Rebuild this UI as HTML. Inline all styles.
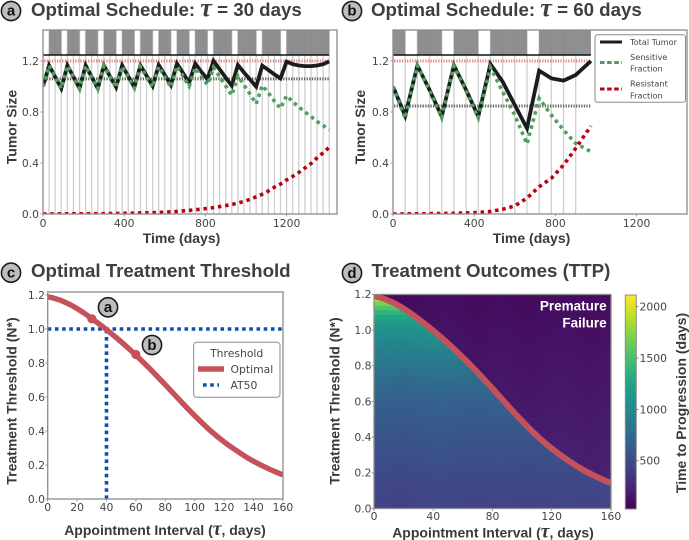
<!DOCTYPE html>
<html>
<head>
<meta charset="utf-8">
<title>Optimal Schedule Figure</title>
<style>
html,body{margin:0;padding:0;background:#fff;}
svg{display:block;}
.title{font-family:"Liberation Sans",sans-serif;font-weight:bold;font-size:18.7px;fill:#3f3f3f;}
.tau{font-family:"Liberation Serif",serif;font-style:italic;font-weight:bold;font-size:1.4em;}
.axl{font-family:"Liberation Sans",sans-serif;font-weight:bold;font-size:14px;fill:#3a3a3a;}
.tick{font-family:"DejaVu Sans",sans-serif;font-size:10.8px;fill:#454545;}
.leg{font-family:"DejaVu Sans",sans-serif;font-size:8.2px;fill:#454545;}
.leg2{font-family:"DejaVu Sans",sans-serif;font-size:10.8px;fill:#454545;}
.badge{font-family:"Liberation Sans",sans-serif;font-weight:bold;font-size:15px;fill:#111;text-anchor:middle;}
</style>
</head>
<body>
<svg id="fig" width="689" height="540" viewBox="0 0 689 540" xmlns="http://www.w3.org/2000/svg">
<defs>
<clipPath id="clipA"><rect x="43" y="30" width="294" height="184"/></clipPath>
<clipPath id="clipB"><rect x="393" y="30" width="294" height="184"/></clipPath>
<clipPath id="clipC"><rect x="47.7" y="292" width="235.3" height="207"/></clipPath>
<clipPath id="clipD"><rect x="374" y="294.5" width="237" height="214"/></clipPath>
<clipPath id="clipCurve"><polygon id="curveRegion" points="0,0"/></clipPath>
<linearGradient id="cbGrad" x1="0" y1="1" x2="0" y2="0"></linearGradient>
</defs>

<g id="panelA"></g>
<g id="panelB"></g>
<g id="panelC"></g>
<g id="panelD"></g>
<g id="panelCB"></g>

<g>
<circle cx="11" cy="11" r="9.6" fill="#bdbdbd" stroke="#1c1c1c" stroke-width="1.6"/>
<text class="badge" x="11" y="15.6">a</text>
<text class="title" x="31" y="16">Optimal Schedule: <tspan class="tau">τ</tspan> = 30 days</text>
<text class="axl" x="181.5" y="243" text-anchor="middle">Time (days)</text>
<text class="axl" transform="translate(16.5,127) rotate(-90)" text-anchor="middle">Tumor Size</text>
</g>

<g>
<circle cx="352" cy="11" r="9.6" fill="#bdbdbd" stroke="#1c1c1c" stroke-width="1.6"/>
<text class="badge" x="352" y="15.6">b</text>
<text class="title" x="371" y="16">Optimal Schedule: <tspan class="tau">τ</tspan> = 60 days</text>
<text class="axl" x="531.5" y="243" text-anchor="middle">Time (days)</text>
<text class="axl" transform="translate(365,127) rotate(-90)" text-anchor="middle">Tumor Size</text>
</g>

<g>
<rect x="595" y="34.7" width="90.5" height="67.5" rx="2.5" fill="#fff" stroke="#8a8a8a" stroke-width="1"/>
<line x1="600" x2="622" y1="42" y2="42" stroke="#1c1c1c" stroke-width="3"/>
<text class="leg" x="630" y="45">Total Tumor</text>
<line x1="600" x2="622" y1="62.5" y2="62.5" stroke="#4d9a5d" stroke-width="3" stroke-dasharray="4.5 2.6"/>
<text class="leg" x="630" y="60">Sensitive</text>
<text class="leg" x="630" y="71.5">Fraction</text>
<line x1="600" x2="622" y1="89" y2="89" stroke="#bb0011" stroke-width="3" stroke-dasharray="4.5 2.6"/>
<text class="leg" x="630" y="86.5">Resistant</text>
<text class="leg" x="630" y="98.5">Fraction</text>
</g>

<g>
<circle cx="11" cy="272.7" r="9.6" fill="#bdbdbd" stroke="#1c1c1c" stroke-width="1.6"/>
<text class="badge" x="11" y="277.3">c</text>
<text class="title" x="31" y="277">Optimal Treatment Threshold</text>
<text class="axl" x="165" y="535" text-anchor="middle">Appointment Interval (<tspan class="tau">τ</tspan>, days)</text>
<text class="axl" transform="translate(16.5,401) rotate(-90)" text-anchor="middle">Treatment Threshold (N*)</text>
<circle cx="108" cy="307.3" r="9.6" fill="#bdbdbd" stroke="#1c1c1c" stroke-width="1.6"/>
<text class="badge" x="108" y="312">a</text>
<circle cx="152" cy="345" r="9.6" fill="#bdbdbd" stroke="#1c1c1c" stroke-width="1.6"/>
<text class="badge" x="152" y="350">b</text>
<rect x="193.7" y="342.3" width="86.3" height="55" rx="3" fill="#fff" stroke="#8a8a8a" stroke-width="1"/>
<text class="leg2" x="236.7" y="357" text-anchor="middle">Threshold</text>
<line x1="198" x2="224" y1="369" y2="369" stroke="#c5525a" stroke-width="5.5"/>
<text class="leg2" x="230.5" y="373">Optimal</text>
<line x1="203" x2="219" y1="385" y2="385" stroke="#0b4fb5" stroke-width="3.6" stroke-dasharray="3.6 3.6"/>
<text class="leg2" x="230.5" y="389">AT50</text>
</g>

<g>
<circle cx="352" cy="273" r="9.6" fill="#bdbdbd" stroke="#1c1c1c" stroke-width="1.6"/>
<text class="badge" x="352" y="277.8">d</text>
<text class="title" x="371.5" y="277">Treatment Outcomes (TTP)</text>
<text class="axl" x="493" y="537.5" text-anchor="middle">Appointment Interval (<tspan class="tau">τ</tspan>, days)</text>
<text class="axl" transform="translate(339.5,401) rotate(-90)" text-anchor="middle">Treatment Threshold (N*)</text>
<text class="axl" transform="translate(686,403) rotate(-90)" text-anchor="middle">Time to Progression (days)</text>
<text class="axl" x="606.7" y="310.5" text-anchor="end" style="fill:#fff;font-size:13.5px">Premature</text>
<text class="axl" x="606.7" y="327.5" text-anchor="end" style="fill:#fff;font-size:13.5px">Failure</text>
</g>

<script>
/* ---------- Panel a data ---------- */
const aDays = [0,30,60,90,120,150,180,210,240,270,300,330,360,390,420,450,480,510,540,570,600,630,660,690,720,750,780,810,840,870,900,930,960,990,1020,1050,1080,1110,1140,1170,1200,1230,1260,1290,1320,1350,1380,1410];
const aTotal = [1.0,1.165,1.075,0.985,1.165,1.075,0.985,1.165,1.075,0.985,1.165,1.08,0.995,1.165,1.08,0.995,1.165,1.085,1.004,1.168,1.09,1.012,1.18,1.105,1.03,1.18,1.115,1.058,1.2,1.135,1.07,1.006,1.169,1.11,1.055,0.999,1.163,1.13,1.095,1.064,1.195,1.175,1.165,1.16,1.16,1.165,1.175,1.197];
const aSensitive = [1.0,1.164,1.074,0.984,1.163,1.073,0.983,1.163,1.073,0.983,1.162,1.076,0.991,1.158,1.074,0.988,1.156,1.076,0.994,1.156,1.076,0.995,1.16,1.08,1.002,1.147,1.077,1.014,1.15,1.077,1.004,0.931,1.083,1.012,0.94,0.864,1.008,0.95,0.885,0.829,0.928,0.88,0.84,0.8,0.765,0.725,0.695,0.66];
const aResistant = [0,0.001,0.001,0.001,0.002,0.002,0.002,0.002,0.003,0.003,0.003,0.004,0.004,0.005,0.006,0.007,0.008,0.009,0.01,0.012,0.014,0.017,0.02,0.024,0.028,0.033,0.038,0.044,0.05,0.058,0.066,0.075,0.086,0.098,0.115,0.135,0.155,0.18,0.21,0.235,0.267,0.295,0.325,0.36,0.395,0.44,0.48,0.523];
const aTreatmentStart = [30,120,210,300,390,480,570,660,750,840,960,1080,1200];
const aTreatmentEnd = [90,180,270,360,450,540,630,720,810,930,1050,1170,1410];
const aThreshold = [1.06];

/* ---------- Panel b data ---------- */
const bDays = [0,60,120,180,240,300,360,420,480,540,600,660,720,780,840,900,975];
const bTotal = [1.0,0.77,1.165,0.973,0.765,1.165,0.973,0.765,1.176,1.038,0.855,0.672,1.124,1.064,1.046,1.09,1.2];
const bSensitive = [1.0,0.75,1.165,0.968,0.755,1.16,0.965,0.755,1.15,0.96,0.776,0.549,0.907,0.776,0.659,0.554,0.489];
const bResistant = [0,0.001,0.002,0.003,0.004,0.005,0.008,0.012,0.02,0.037,0.063,0.125,0.214,0.28,0.384,0.515,0.69];
const bTreatmentStart = [0,120,300,480,720];
const bTreatmentEnd = [60,240,420,660,975];
const bThreshold = [0.847];

/* ---------- Shared tick labels ---------- */
const timeTicks = [0,400,800,1200];
const tumorTicks = [0.0,0.4,0.8,1.2];
const maxTumor = [1.2];
const thresholdTicks = [0.0,0.2,0.4,0.6,0.8,1.0,1.2];
const intervalTicksC = [0,20,40,60,80,100,120,140,160];
const intervalTicksD = [0,40,80,120,160];
const colorbarTicks = [500,1000,1500,2000];

/* ---------- Panels c and d data ---------- */
const tauGrid = [0,4,8,12,16,20,24,28,32,36,40,44,48,52,56,60,64,68,72,76,80,84,88,92,96,100,104,108,112,116,120,124,128,132,136,140,144,148,152,156,160];
const optimalThreshold = [1.19,1.182,1.171,1.157,1.14,1.12,1.098,1.074,1.049,1.023,0.996,0.968,0.939,0.909,0.878,0.846,0.813,0.779,0.744,0.708,0.672,0.635,0.598,0.561,0.525,0.49,0.456,0.423,0.392,0.363,0.336,0.311,0.287,0.264,0.242,0.222,0.204,0.187,0.171,0.156,0.142];
const at50Threshold = [1.0];
const at50Interval = [40];
const markerTau = [30,60];
const markerThreshold = [1.06,0.85];
const thresholdRows = [0,0.025,0.05,0.075,0.1,0.125,0.15,0.175,0.2,0.225,0.25,0.275,0.3,0.325,0.35,0.375,0.4,0.425,0.45,0.475,0.5,0.525,0.55,0.575,0.6,0.625,0.65,0.675,0.7,0.725,0.75,0.775,0.8,0.825,0.85,0.875,0.9,0.925,0.95,0.975,1.0,1.025,1.05,1.075,1.1,1.125,1.15,1.175,1.2];
const ttpByThreshold = [445,450,455,460,465,470,478,485,492,502,512,522,532,542,552,562,572,583,594,605,616,628,640,652,665,682,700,720,742,765,790,815,842,868,895,922,950,980,1010,1040,1072,1120,1178,1270,1385,1530,1700,1880,2050];
const ttpPremature = [235,232,230,228,225,222,220,217,214,211,208,205,202,199,196,193,190,187,184,181,178,175,172,169,166,163,160,157,154,151,148,145,142,139,136,133,130,127,124,121,118,115,112,109,106,103,100,97,94];
const ttpTauOffset = [6,2,-4,-6,-8,-10,-6,0,6,10,12,14,16,12,8,2,-2,-6,-4,0,4,8,6,2,-2,-6,-8,-6,-2,2,6,8,10,6,2,-2,-6,-4,0,4,6];
const colorLimits = [30,2114];

/* ---------- Viridis colour table ---------- */
const viridis = ['#440154','#482475','#414487','#355f8d','#2a788e','#21918c','#22a884','#44bf70','#7ad151','#bddf26','#fde725'];

const NS = 'http://www.w3.org/2000/svg';
function mk(tag, attrs, parent){
  const n = document.createElementNS(NS, tag);
  for(const k in attrs){ n.setAttribute(k, attrs[k]); }
  parent.appendChild(n);
  return n;
}
function hex(c){ return [parseInt(c.substr(1,2),16),parseInt(c.substr(3,2),16),parseInt(c.substr(5,2),16)]; }
function colorFor(v){
  let t = (v - colorLimits[0]) / (colorLimits[1] - colorLimits[0]);
  t = Math.max(0, Math.min(1, t));
  const p = t * (viridis.length - 1);
  const i = Math.min(viridis.length - 2, Math.floor(p));
  const f = p - i;
  const a = hex(viridis[i]), b = hex(viridis[i + 1]);
  return 'rgb(' + Math.round(a[0] + (b[0] - a[0]) * f) + ',' + Math.round(a[1] + (b[1] - a[1]) * f) + ',' + Math.round(a[2] + (b[2] - a[2]) * f) + ')';
}
function points(xs, ys, fx, fy){
  return xs.map(function(x, i){ return fx(x).toFixed(2) + ',' + fy(ys[i]).toFixed(2); }).join(' ');
}
function drawFrame(g, left, top, right, bottom){
  const f = mk('rect', {x:left, y:top, width:right-left, height:bottom-top, fill:'none', stroke:'#8c8c8c', 'stroke-width':1.3}, g);
  
  
}
function drawXTicks(g, ticks, fx, bottom, labelY){
  ticks.forEach(function(v){
    const m = mk('line', {x1:fx(v), x2:fx(v), y1:bottom, y2:bottom+2.5, stroke:'#888', 'stroke-width':0.8}, g);
    
    
    const t = mk('text', {x:fx(v), y:labelY, 'text-anchor':'middle', 'class':'tick'}, g);
    t.textContent = String(v);
    
    
  });
}
function drawYTicks(g, ticks, fy, left, labelX){
  ticks.forEach(function(v){
    const m = mk('line', {x1:left-2.5, x2:left, y1:fy(v), y2:fy(v), stroke:'#888', 'stroke-width':0.8}, g);
    
    
    const t = mk('text', {x:labelX, y:fy(v)+3.9, 'text-anchor':'end', 'class':'tick'}, g);
    t.textContent = v.toFixed(1);
    
    
  });
}
function drawSchedule(g, clipId, left, right, tau, days, total, sens, resist, starts, ends, threshold){
  const fx = function(d){ return left + 0.203 * d; };
  const fy = function(v){ return 214 - 127.5 * v; };
  const c = mk('g', {'clip-path':'url(#' + clipId + ')'}, g);
  
  
  days.forEach(function(d){
    if(d > 0 && d % tau === 0){
      const l = mk('line', {x1:fx(d), x2:fx(d), y1:30, y2:214, stroke:'#cfcfcf', 'stroke-width':1.3}, c);
      
      
    }
  });
  starts.forEach(function(s, i){
    const b = mk('rect', {x:fx(s), y:30, width:fx(ends[i])-fx(s), height:25, fill:'#868686', 'fill-opacity':0.93}, c);
    
    
  });
  const endDay = ends[ends.length - 1];
  const base = mk('line', {x1:left, x2:fx(endDay), y1:55, y2:55, stroke:'#111', 'stroke-width':1.5}, c);
  
  
  const maxL = mk('line', {x1:left+1, x2:fx(endDay), y1:fy(maxTumor[0]), y2:fy(maxTumor[0]), stroke:'#e28b8c', 'stroke-width':3, 'stroke-dasharray':'1.3 1.3'}, c);
  
  
  const thr = mk('line', {x1:left+1, x2:fx(endDay), y1:fy(threshold[0]), y2:fy(threshold[0]), stroke:'#666', 'stroke-width':3, 'stroke-dasharray':'1.3 1.3'}, c);
  
  
  const tl = mk('polyline', {points:points(days, total, fx, fy), fill:'none', stroke:'#1c1c1c', 'stroke-width':3.8, 'stroke-linejoin':'miter'}, c);
  
  
  const sl = mk('polyline', {points:points(days, sens, fx, fy), fill:'none', stroke:'#4f9f60', 'stroke-width':3.6, 'stroke-dasharray':'3.5 3.8'}, c);
  
  
  const rl = mk('polyline', {points:points(days, resist, fx, fy), fill:'none', stroke:'#bb0011', 'stroke-width':3.6, 'stroke-dasharray':'3.5 3.8'}, c);
  
  
  drawFrame(g, left, 30, right, 214);
  drawXTicks(g, timeTicks, fx, 214, 227);
  drawYTicks(g, tumorTicks, fy, left, left - 4);
}

drawSchedule(document.getElementById('panelA'), 'clipA', 43, 337, 30, aDays, aTotal, aSensitive, aResistant, aTreatmentStart, aTreatmentEnd, aThreshold);
drawSchedule(document.getElementById('panelB'), 'clipB', 393, 687, 60, bDays, bTotal, bSensitive, bResistant, bTreatmentStart, bTreatmentEnd, bThreshold);

/* ---------- Panel c ---------- */
(function(){
  const g = document.getElementById('panelC');
  const fx = function(t){ return 47.7 + 1.47 * t; };
  const fy = function(v){ return 499 - 170 * v; };
  const c = mk('g', {'clip-path':'url(#clipC)'}, g);
  
  
  const h = mk('line', {x1:fx(0), x2:fx(160), y1:fy(at50Threshold[0]), y2:fy(at50Threshold[0]), stroke:'#0b4fb5', 'stroke-width':3.6, 'stroke-dasharray':'3.6 3.6'}, c);
  
  
  const v = mk('line', {x1:fx(at50Interval[0]), x2:fx(at50Interval[0]), y1:fy(0), y2:fy(at50Threshold[0]), stroke:'#0b4fb5', 'stroke-width':3.6, 'stroke-dasharray':'3.6 3.6'}, c);
  
  
  const o = mk('polyline', {points:points(tauGrid, optimalThreshold, fx, fy), fill:'none', stroke:'#c5525a', 'stroke-width':5.4, 'stroke-linejoin':'round'}, c);
  
  
  markerTau.forEach(function(t, i){
    const m = mk('circle', {cx:fx(t), cy:fy(markerThreshold[i]), r:4.6, fill:'#c5525a'}, c);
    
    
  });
  drawFrame(g, 47.7, 292, 283, 499);
  drawXTicks(g, intervalTicksC, fx, 499, 511);
  drawYTicks(g, thresholdTicks, fy, 47.7, 45);
})();

/* ---------- Panel d ---------- */
(function(){
  const g = document.getElementById('panelD');
  const fx = function(t){ return 374 + 1.481 * t; };
  const fy = function(v){ return 508.5 - 178.5 * v; };
  const c = mk('g', {'clip-path':'url(#clipD)'}, g);
  
  
  const cw = 4, ch = 0.025;
  /* the region below the optimal curve, taken from the curve's own values */
  const region = points(tauGrid, optimalThreshold, fx, fy) + ' ' + fx(tauGrid[tauGrid.length - 1]).toFixed(2) + ',' + fy(0).toFixed(2) + ' ' + fx(tauGrid[0]).toFixed(2) + ',' + fy(0).toFixed(2);
  document.getElementById('curveRegion').setAttribute('points', region);
  const low = mk('g', {}, c);
  
  
  const high = mk('g', {'clip-path':'url(#clipCurve)'}, c);
  
  
  tauGrid.forEach(function(t, col){
    thresholdRows.forEach(function(n, row){
      const x0 = fx(t - cw / 2), y0 = fy(n + ch / 2);
      const w = (fx(t + cw / 2) - x0 + 0.4).toFixed(2), h = (fy(n - ch / 2) - y0 + 0.4).toFixed(2);
      const a = mk('rect', {x:x0.toFixed(2), y:y0.toFixed(2), width:w, height:h, fill:colorFor(ttpPremature[row] + ttpTauOffset[col])}, low);
      
      
      if(n - ch <= optimalThreshold[Math.max(0, col - 1)]){
        const b = mk('rect', {x:x0.toFixed(2), y:y0.toFixed(2), width:w, height:h, fill:colorFor(ttpByThreshold[row] + ttpTauOffset[col])}, high);
        
        
      }
    });
  });
  const o = mk('polyline', {points:points(tauGrid, optimalThreshold, fx, fy), fill:'none', stroke:'#c5525a', 'stroke-width':6, 'stroke-linejoin':'round'}, c);
  
  
  drawFrame(g, 374, 294.5, 611, 508.5);
  drawXTicks(g, intervalTicksD, fx, 508.5, 520);
  drawYTicks(g, thresholdTicks, fy, 374, 371.5);
})();

/* ---------- Colour bar ---------- */
(function(){
  const g = document.getElementById('panelCB');
  const fy = function(v){ return 509 - (v - colorLimits[0]) * 214 / (colorLimits[1] - colorLimits[0]); };
  const grad = document.getElementById('cbGrad');
  viridis.forEach(function(col, i){
    mk('stop', {offset:(i / (viridis.length - 1)), 'stop-color':col}, grad);
  });
  const bar = mk('rect', {x:625.3, y:295, width:11, height:214, fill:'url(#cbGrad)', stroke:'#8c8c8c', 'stroke-width':1}, g);
  
  
  colorbarTicks.forEach(function(v){
    const m = mk('line', {x1:636.3, x2:638.5, y1:fy(v), y2:fy(v), stroke:'#666', 'stroke-width':0.8}, g);
    
    
    const t = mk('text', {x:639.5, y:fy(v)+3.9, 'class':'tick'}, g);
    t.textContent = String(v);
    
    
  });
})();
</script>
</svg>
</body>
</html>
